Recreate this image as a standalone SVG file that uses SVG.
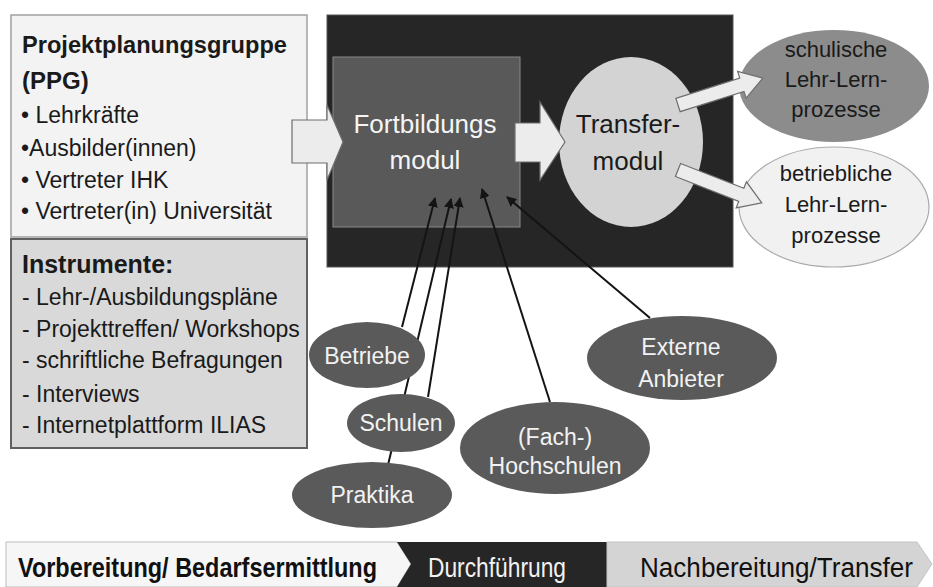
<svg xmlns="http://www.w3.org/2000/svg" width="933" height="587" viewBox="0 0 933 587">
<style>
text{font-family:"Liberation Sans",Arial,sans-serif}
.t23{font-size:23px;fill:#1a1a1a}
.wt{font-size:23px;fill:#f2f2f2;text-anchor:middle}
.dk{fill:#5a5a5a}
.conn{stroke:#141414;stroke-width:2;fill:none;marker-end:url(#ah)}
.barr{fill:#ececec;stroke:#6e6e6e;stroke-width:1.2}
.proc{font-size:22px;fill:#1a1a1a;text-anchor:middle}
</style>
<defs>
<marker id="ah" viewBox="0 0 10 10" refX="9" refY="5" markerWidth="5" markerHeight="5" orient="auto" markerUnits="strokeWidth">
<path d="M0,0 L10,5 L0,10 z" fill="#141414"/>
</marker>
</defs>
<rect width="933" height="587" fill="#ffffff"/>

<g id="ppg">
<rect x="11" y="15" width="296" height="222" fill="#f3f3f3" stroke="#a0a0a0" stroke-width="1.5"/>
<text x="22" y="53" font-size="24" font-weight="bold" fill="#1a1a1a" textLength="265" lengthAdjust="spacingAndGlyphs">Projektplanungsgruppe</text>
<text x="22" y="89" font-size="24" font-weight="bold" fill="#1a1a1a">(PPG)</text>
<text class="t23" x="21" y="123">• Lehrkräfte</text>
<text class="t23" x="21" y="156">•Ausbilder(innen)</text>
<text class="t23" x="21" y="188">• Vertreter IHK</text>
<text class="t23" x="21" y="219">• Vertreter(in) Universität</text>
</g>

<g id="instrumente">
<rect x="11" y="239" width="296" height="209" fill="#d9d9d9" stroke="#606060" stroke-width="2"/>
<text x="22" y="273" font-size="25" font-weight="bold" fill="#1a1a1a">Instrumente:</text>
<text class="t23" x="22" y="305">- Lehr-/Ausbildungspläne</text>
<text class="t23" x="22" y="337">- Projekttreffen/ Workshops</text>
<text class="t23" x="22" y="368">- schriftliche Befragungen</text>
<text class="t23" x="22" y="402">- Interviews</text>
<text class="t23" x="22" y="433">- Internetplattform ILIAS</text>
</g>

<g id="rahmen">
<rect x="327" y="15" width="406" height="252" fill="#262626" stroke="#555" stroke-width="1"/>
</g>

<g id="fortbildungsmodul">
<rect x="333" y="57" width="187" height="170" fill="#595959" stroke="#8a8a8a" stroke-width="1"/>
<text x="425" y="133" font-size="26" fill="#f5f5f5" text-anchor="middle">Fortbildungs</text>
<text x="425" y="169" font-size="26" fill="#f5f5f5" text-anchor="middle">modul</text>
</g>

<g id="transfermodul">
<ellipse cx="631" cy="142" rx="72" ry="85" fill="#d3d3d3"/>
<text x="628" y="133" font-size="26" fill="#1a1a1a" text-anchor="middle">Transfer-</text>
<text x="628" y="170" font-size="26" fill="#1a1a1a" text-anchor="middle">modul</text>
</g>

<g id="schulische">
<ellipse cx="834" cy="86" rx="95" ry="56" fill="#8c8c8c"/>
<text class="proc" x="836" y="57">schulische</text>
<text class="proc" x="836" y="87">Lehr-Lern-</text>
<text class="proc" x="836" y="117">prozesse</text>
</g>

<g id="betriebliche">
<ellipse cx="834" cy="207" rx="95" ry="60" fill="#f1f1f1" stroke="#aaaaaa" stroke-width="1.2"/>
<text class="proc" x="836" y="181">betriebliche</text>
<text class="proc" x="836" y="212">Lehr-Lern-</text>
<text class="proc" x="836" y="243">prozesse</text>
</g>

<g id="connectors">
<polygon class="barr" points="292,120 327,120 327,105 343,142 327,180 327,163 292,163"/>
<polygon class="barr" fill="#f0f0f0" points="515,123 540,123 540,102 565,142 540,180 540,162 515,162"/>
<polygon class="barr" transform="translate(678,105) rotate(-17.6)" points="0,-7 67,-7 67,-14 89,0 67,14 67,7 0,7"/>
<polygon class="barr" transform="translate(678,170) rotate(21.4)" points="0,-7 68,-7 68,-14 90,0 68,14 68,7 0,7"/>
<line class="conn" x1="402" y1="327" x2="435" y2="198"/>
<line class="conn" x1="388" y1="465" x2="451" y2="199"/>
<line class="conn" x1="428" y1="397" x2="460" y2="198"/>
<line class="conn" x1="550" y1="402" x2="482" y2="189"/>
<line class="conn" x1="650" y1="318" x2="507" y2="197"/>
</g>

<g id="betriebe">
<ellipse class="dk" cx="367" cy="355" rx="58" ry="33"/>
<text class="wt" x="367" y="364">Betriebe</text>
</g>
<g id="schulen">
<ellipse class="dk" cx="401" cy="423" rx="54" ry="29"/>
<text class="wt" x="401" y="431">Schulen</text>
</g>
<g id="praktika">
<ellipse class="dk" cx="372" cy="495" rx="80" ry="33"/>
<text class="wt" x="372" y="503">Praktika</text>
</g>
<g id="hochschulen">
<ellipse class="dk" cx="555" cy="448" rx="95" ry="46"/>
<text class="wt" x="555" y="445">(Fach-)</text>
<text class="wt" x="555" y="474">Hochschulen</text>
</g>
<g id="externe">
<ellipse class="dk" cx="682" cy="358" rx="95" ry="42"/>
<text class="wt" x="681" y="355">Externe</text>
<text class="wt" x="681" y="387">Anbieter</text>
</g>

<g id="phasen">
<polygon points="6,542 397,542 411,564 397,587 6,587" fill="#f6f6f6" stroke="#bdbdbd" stroke-width="1"/>
<polygon points="397,542 607,542 607,587 397,587 411,564" fill="#262626"/>
<polygon points="607,542 917,542 932,564 917,587 607,587" fill="#d4d4d4" stroke="#c4c4c4" stroke-width="1"/>
<text x="18" y="577" font-size="27" font-weight="bold" fill="#111" textLength="359" lengthAdjust="spacingAndGlyphs">Vorbereitung/ Bedarfsermittlung</text>
<text x="428" y="577" font-size="27" fill="#f2f2f2" textLength="138" lengthAdjust="spacingAndGlyphs">Durchführung</text>
<text x="640" y="577" font-size="27" fill="#111" textLength="273" lengthAdjust="spacingAndGlyphs">Nachbereitung/Transfer</text>
</g>
</svg>
